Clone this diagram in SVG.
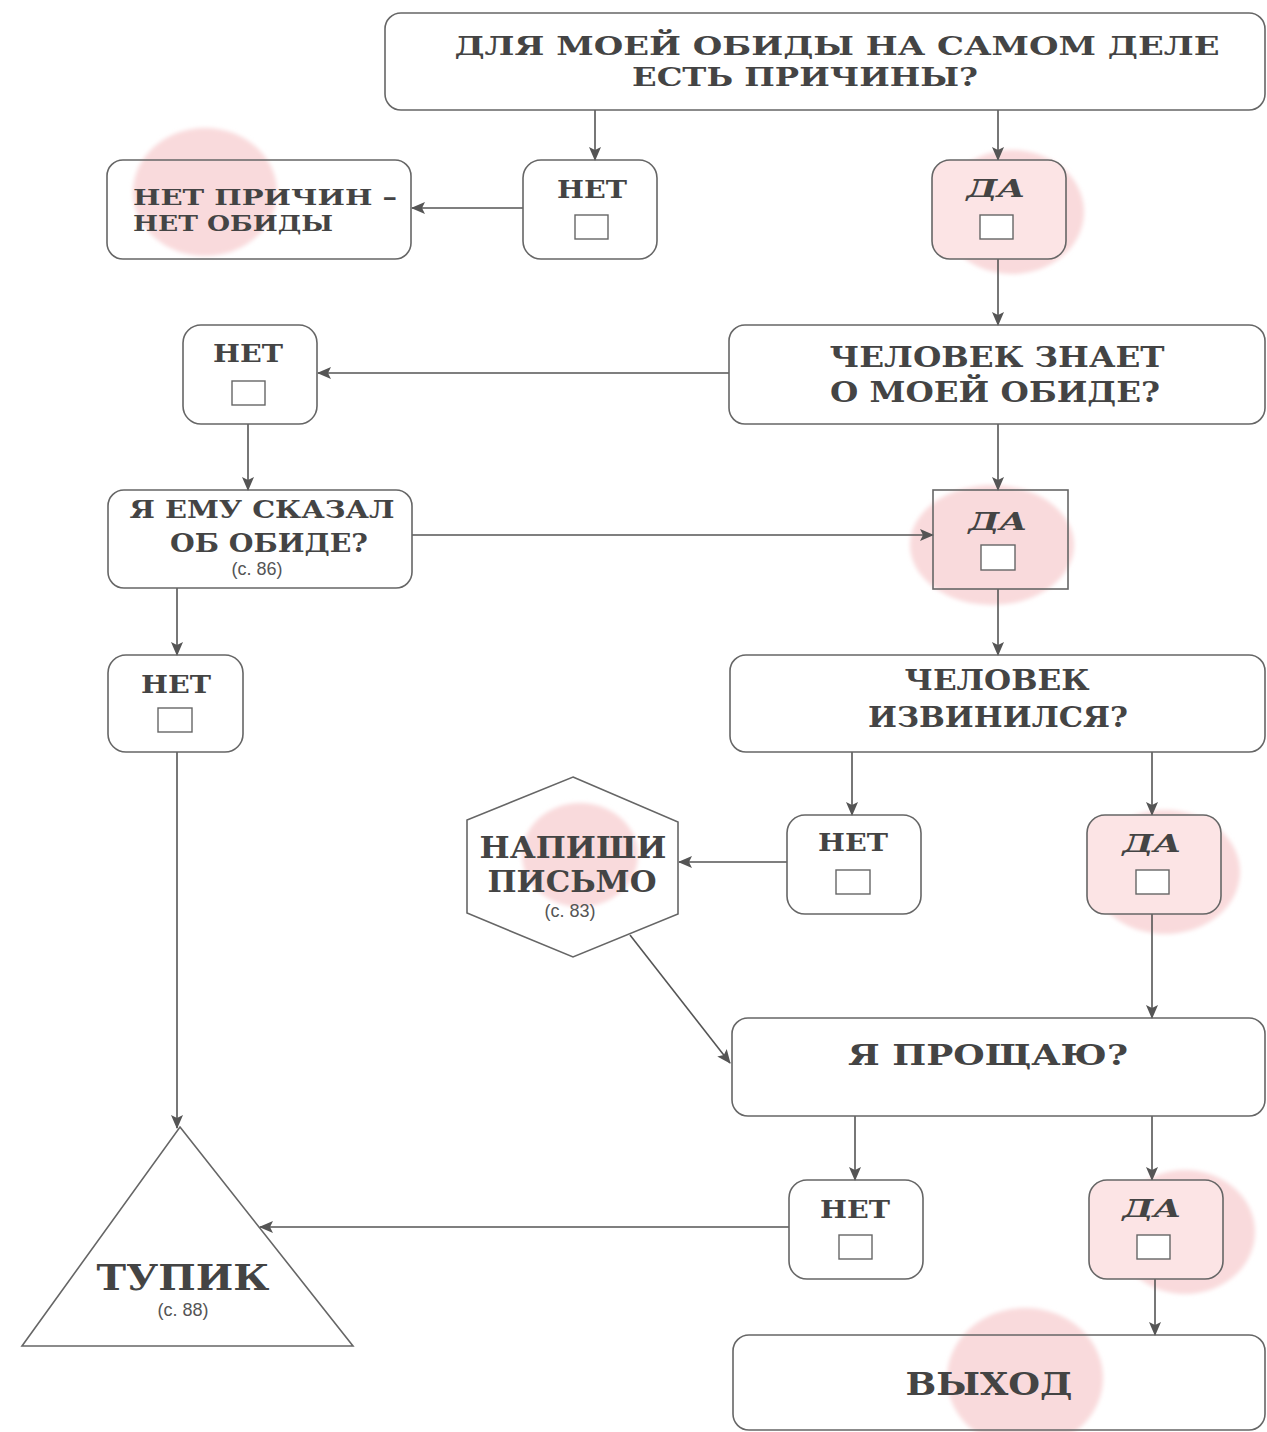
<svg xmlns="http://www.w3.org/2000/svg" width="1267" height="1432" viewBox="0 0 1267 1432">
<defs>
<marker id="arr" markerUnits="userSpaceOnUse" markerWidth="14" markerHeight="12" refX="13" refY="6" orient="auto">
<path d="M0,0 L14,6 L0,12 L3,6 Z" fill="#555"/>
</marker>
<filter id="soft" x="-20%" y="-20%" width="140%" height="140%"><feGaussianBlur stdDeviation="2"/></filter>
<style>
.box{fill:none;stroke:#666;stroke-width:1.6}
.pinkbox{fill:#fce4e5;stroke:#666;stroke-width:1.6}
.chk{fill:#fff;stroke:#666;stroke-width:1.4}
.blob{fill:#f9dadc;filter:url(#soft)}
.t{font-family:"DejaVu Serif","Liberation Serif",serif;font-weight:bold;fill:#444}
.s{font-family:"Liberation Sans",Arial,sans-serif;fill:#555;font-size:18px}
.c line,.c path{stroke:#555;stroke-width:1.6;fill:none;marker-end:url(#arr)}
</style>
</defs>
<rect width="1267" height="1432" fill="#fff"/>

<!-- pink blobs -->
<g id="blobs">
<ellipse class="blob" cx="205" cy="192" rx="72" ry="64"/>
<ellipse class="blob" cx="1012" cy="212" rx="72" ry="62"/>
<ellipse class="blob" cx="992" cy="545" rx="82" ry="60"/>
<ellipse class="blob" cx="580" cy="855" rx="58" ry="52"/>
<ellipse class="blob" cx="1165" cy="872" rx="75" ry="62"/>
<ellipse class="blob" cx="1185" cy="1232" rx="70" ry="62"/>
<ellipse class="blob" cx="1025" cy="1378" rx="78" ry="70"/>
</g>

<g class="c" id="connectors">
<line x1="595" y1="110" x2="595" y2="160"/>
<line x1="998" y1="110" x2="998" y2="160"/>
<line x1="523" y1="208" x2="412" y2="208"/>
<line x1="998" y1="259" x2="998" y2="325"/>
<line x1="729" y1="373" x2="318" y2="373"/>
<line x1="248" y1="424" x2="248" y2="490"/>
<line x1="412" y1="535" x2="933" y2="535"/>
<line x1="998" y1="424" x2="998" y2="490"/>
<line x1="998" y1="589" x2="998" y2="655"/>
<line x1="177" y1="588" x2="177" y2="655"/>
<line x1="177" y1="752" x2="177" y2="1128"/>
<line x1="852" y1="752" x2="852" y2="815"/>
<line x1="1152" y1="752" x2="1152" y2="815"/>
<line x1="787" y1="862" x2="679" y2="862"/>
<line x1="630" y1="935" x2="730" y2="1063"/>
<line x1="1152" y1="914" x2="1152" y2="1018"/>
<line x1="855" y1="1116" x2="855" y2="1180"/>
<line x1="1152" y1="1116" x2="1152" y2="1180"/>
<line x1="789" y1="1227" x2="260" y2="1227"/>
<line x1="1155" y1="1279" x2="1155" y2="1335"/>
</g>

<g id="q1">
<rect class="box" x="385" y="13" width="880" height="97" rx="16"/>
<text class="t" x="837" y="55" font-size="26" text-anchor="middle" textLength="765" lengthAdjust="spacingAndGlyphs">ДЛЯ МОЕЙ ОБИДЫ НА САМОМ ДЕЛЕ</text>
<text class="t" x="805" y="86" font-size="26" text-anchor="middle" textLength="346" lengthAdjust="spacingAndGlyphs">ЕСТЬ ПРИЧИНЫ?</text>
</g>

<g id="noreason">
<rect class="box" x="107" y="160" width="304" height="99" rx="16"/>
<text class="t" x="133" y="205" font-size="23" textLength="264" lengthAdjust="spacingAndGlyphs">НЕТ ПРИЧИН –</text>
<text class="t" x="133" y="231" font-size="23" textLength="200" lengthAdjust="spacingAndGlyphs">НЕТ ОБИДЫ</text>
</g>

<g id="no1">
<rect class="box" x="523" y="160" width="134" height="99" rx="18"/>
<text class="t" x="592" y="198" font-size="24" text-anchor="middle" textLength="70" lengthAdjust="spacingAndGlyphs">НЕТ</text>
<rect class="chk" x="575" y="215" width="33" height="24"/>
</g>

<g id="yes1">
<rect class="pinkbox" x="932" y="160" width="134" height="99" rx="18"/>
<text class="t" x="996" y="197" font-size="24" font-style="italic" text-anchor="middle" textLength="59" lengthAdjust="spacingAndGlyphs">ДА</text>
<rect class="chk" x="980" y="215" width="33" height="24"/>
</g>

<g id="q2">
<rect class="box" x="729" y="325" width="536" height="99" rx="16"/>
<text class="t" x="997" y="367" font-size="27" text-anchor="middle" textLength="335" lengthAdjust="spacingAndGlyphs">ЧЕЛОВЕК ЗНАЕТ</text>
<text class="t" x="995" y="402" font-size="27" text-anchor="middle" textLength="330" lengthAdjust="spacingAndGlyphs">О МОЕЙ ОБИДЕ?</text>
</g>

<g id="no2">
<rect class="box" x="183" y="325" width="134" height="99" rx="18"/>
<text class="t" x="248" y="362" font-size="24" text-anchor="middle" textLength="70" lengthAdjust="spacingAndGlyphs">НЕТ</text>
<rect class="chk" x="232" y="381" width="33" height="24"/>
</g>

<g id="q3">
<rect class="box" x="108" y="490" width="304" height="98" rx="16"/>
<text class="t" x="262" y="518" font-size="24" text-anchor="middle" textLength="265" lengthAdjust="spacingAndGlyphs">Я ЕМУ СКАЗАЛ</text>
<text class="t" x="269" y="552" font-size="26" text-anchor="middle" textLength="198" lengthAdjust="spacingAndGlyphs">ОБ ОБИДЕ?</text>
<text class="s" x="257" y="575" text-anchor="middle">(с. 86)</text>
</g>

<g id="yes2">
<rect class="box" x="933" y="490" width="135" height="99"/>
<text class="t" x="998" y="530" font-size="24" font-style="italic" text-anchor="middle" textLength="59" lengthAdjust="spacingAndGlyphs">ДА</text>
<rect class="chk" x="981" y="545" width="34" height="25"/>
</g>

<g id="q4">
<rect class="box" x="730" y="655" width="535" height="97" rx="16"/>
<text class="t" x="997" y="690" font-size="27" text-anchor="middle" textLength="185" lengthAdjust="spacingAndGlyphs">ЧЕЛОВЕК</text>
<text class="t" x="998" y="727" font-size="27" text-anchor="middle" textLength="260" lengthAdjust="spacingAndGlyphs">ИЗВИНИЛСЯ?</text>
</g>

<g id="no3">
<rect class="box" x="108" y="655" width="135" height="97" rx="18"/>
<text class="t" x="176" y="693" font-size="24" text-anchor="middle" textLength="70" lengthAdjust="spacingAndGlyphs">НЕТ</text>
<rect class="chk" x="158" y="708" width="34" height="24"/>
</g>

<g id="no4">
<rect class="box" x="787" y="815" width="134" height="99" rx="18"/>
<text class="t" x="853" y="851" font-size="24" text-anchor="middle" textLength="70" lengthAdjust="spacingAndGlyphs">НЕТ</text>
<rect class="chk" x="836" y="870" width="34" height="24"/>
</g>

<g id="yes4">
<rect class="pinkbox" x="1087" y="815" width="134" height="99" rx="18"/>
<text class="t" x="1152" y="852" font-size="24" font-style="italic" text-anchor="middle" textLength="59" lengthAdjust="spacingAndGlyphs">ДА</text>
<rect class="chk" x="1136" y="870" width="33" height="24"/>
</g>

<g id="letter">
<polygon class="box" points="573,777 678,822 678,914 573,957 467,913 467,820"/>
<text class="t" x="573" y="858" font-size="29" text-anchor="middle" textLength="187" lengthAdjust="spacingAndGlyphs">НАПИШИ</text>
<text class="t" x="572" y="892" font-size="29" text-anchor="middle" textLength="169" lengthAdjust="spacingAndGlyphs">ПИСЬМО</text>
<text class="s" x="570" y="917" text-anchor="middle">(с. 83)</text>
</g>

<g id="q5">
<rect class="box" x="732" y="1018" width="533" height="98" rx="16"/>
<text class="t" x="988" y="1065" font-size="27" text-anchor="middle" textLength="280" lengthAdjust="spacingAndGlyphs">Я ПРОЩАЮ?</text>
</g>

<g id="no5">
<rect class="box" x="789" y="1180" width="134" height="99" rx="18"/>
<text class="t" x="855" y="1218" font-size="24" text-anchor="middle" textLength="70" lengthAdjust="spacingAndGlyphs">НЕТ</text>
<rect class="chk" x="839" y="1235" width="33" height="24"/>
</g>

<g id="yes5">
<rect class="pinkbox" x="1089" y="1180" width="134" height="99" rx="18"/>
<text class="t" x="1152" y="1217" font-size="24" font-style="italic" text-anchor="middle" textLength="59" lengthAdjust="spacingAndGlyphs">ДА</text>
<rect class="chk" x="1137" y="1235" width="33" height="24"/>
</g>

<g id="deadend">
<polygon class="box" points="180,1127 353,1346 22,1346"/>
<text class="t" x="183" y="1290" font-size="35" text-anchor="middle" textLength="173" lengthAdjust="spacingAndGlyphs">ТУПИК</text>
<text class="s" x="183" y="1316" text-anchor="middle">(с. 88)</text>
</g>

<g id="exit">
<rect class="box" x="733" y="1335" width="532" height="95" rx="16"/>
<text class="t" x="989" y="1395" font-size="32" text-anchor="middle" textLength="167" lengthAdjust="spacingAndGlyphs">ВЫХОД</text>
</g>
</svg>
